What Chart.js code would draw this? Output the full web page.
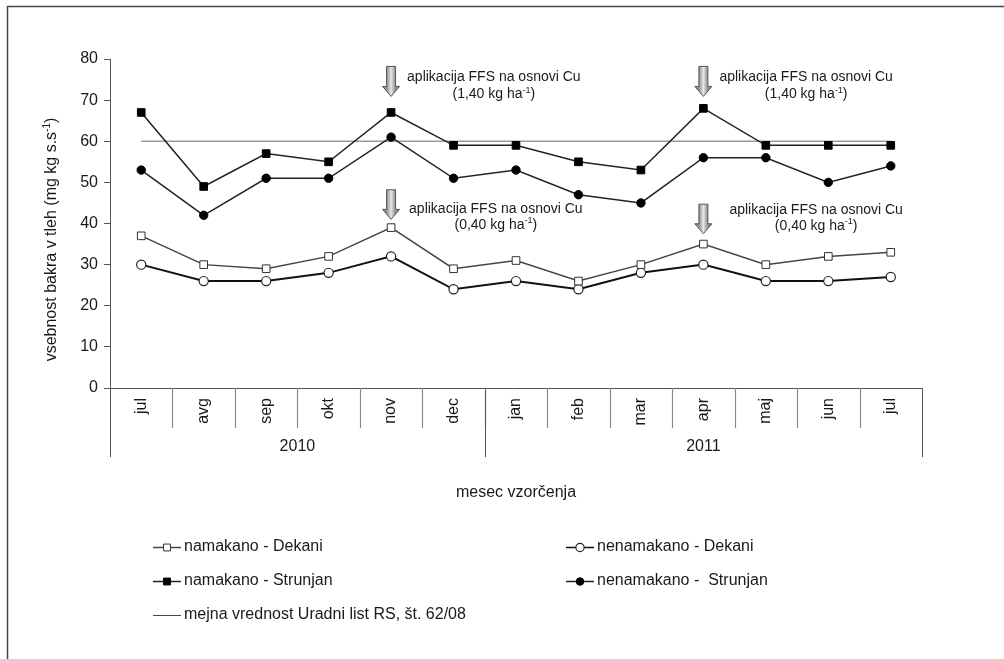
<!DOCTYPE html>
<html>
<head>
<meta charset="utf-8">
<script src="https://cdn.jsdelivr.net/npm/chart.js@4/dist/chart.umd.min.js"></script>
<style>
  html, body { margin: 0; padding: 0; background: #fff; }
  #wrap { width: 1004px; height: 659px; }
</style>
</head>
<body>
<div id="wrap"><canvas id="c" width="1004" height="659"></canvas></div>
<script>
// Sampling months (July 2010 - July 2011)
const months = ['jul', 'avg', 'sep', 'okt', 'nov', 'dec', 'jan', 'feb', 'mar', 'apr', 'maj', 'jun', 'jul'];
const yearLabels = ['2010', '2011'];
const yearSpans = [6, 7];

// Copper content in soil (mg kg s.s.^-1)
const namakanoDekani = [37, 30, 29, 32, 39, 29, 31, 26, 30, 35, 30, 32, 33];
const nenamakanoDekani = [30, 26, 26, 28, 32, 24, 26, 24, 28, 30, 26, 26, 27];
const namakanoStrunjan = [67, 49, 57, 55, 67, 59, 59, 55, 53, 68, 59, 59, 59];
const nenamakanoStrunjan = [53, 42, 51, 51, 61, 51, 53, 47, 45, 56, 56, 50, 54];
const mejnaVrednost = 60;

const yTicks = [0, 10, 20, 30, 40, 50, 60, 70, 80];

// Fungicide application notes: month index, arrow tip value, arrow top value, text offset, dose
const notes = [
  { idx: 4, tip: 70.9, top: 78.2, dx: 16, dy1: 11, dy2: 28, dose: '1,40' },
  { idx: 9, tip: 70.9, top: 78.2, dx: 16, dy1: 11, dy2: 28, dose: '1,40' },
  { idx: 4, tip: 41.0, top: 48.2, dx: 18, dy1: 19, dy2: 35, dose: '0,40' },
  { idx: 9, tip: 37.5, top: 44.7, dx: 26, dy1: 6, dy2: 22, dose: '0,40' }
];

const FONT = '"Liberation Sans", Arial, sans-serif';
const TXT = '#1a1a1a';

const datasets = [
  { label: 'namakano - Dekani', data: namakanoDekani, borderColor: '#444', borderWidth: 1.5,
    pointStyle: 'rect', pointRadius: 5.4, pointBackgroundColor: '#fff', pointBorderColor: '#333', pointBorderWidth: 1 },
  { label: 'nenamakano - Dekani', data: nenamakanoDekani, borderColor: '#111', borderWidth: 2,
    pointStyle: 'circle', pointRadius: 4.6, pointBackgroundColor: '#fff', pointBorderColor: '#222', pointBorderWidth: 1.2 },
  { label: 'namakano - Strunjan', data: namakanoStrunjan, borderColor: '#222', borderWidth: 1.5,
    pointStyle: 'rect', pointRadius: 5.4, pointBackgroundColor: '#000', pointBorderColor: '#000', pointBorderWidth: 1 },
  { label: 'nenamakano -  Strunjan', data: nenamakanoStrunjan, borderColor: '#222', borderWidth: 1.5,
    pointStyle: 'circle', pointRadius: 4.2, pointBackgroundColor: '#000', pointBorderColor: '#000', pointBorderWidth: 1 },
  { label: 'mejna vrednost Uradni list RS, št. 62/08', data: months.map(() => mejnaVrednost),
    borderColor: '#9a9a9a', borderWidth: 1.5, pointRadius: 0, legendColor: '#444' }
];
datasets.forEach(d => { d.tension = 0; d.fill = false; d.pointHoverRadius = d.pointRadius; });

// Text with superscript pieces
function drawRich(ctx, parts, x, y, align, size) {
  const big = size + 'px ' + FONT, small = Math.round(size * 0.62) + 'px ' + FONT;
  let total = 0;
  parts.forEach(p => { ctx.font = p.sup ? small : big; p.w = ctx.measureText(p.t).width; total += p.w; });
  let cx = align === 'center' ? x - total / 2 : x;
  ctx.textAlign = 'left';
  ctx.textBaseline = 'middle';
  parts.forEach(p => {
    ctx.font = p.sup ? small : big;
    ctx.fillText(p.t, cx, p.sup ? y - size * 0.3 : y);
    cx += p.w;
  });
  return total;
}

function drawArrow(ctx, cx, top, tip) {
  const shaftW = 9, headW = 17, headH = 10;
  const shaftBottom = tip - headH;
  const g = ctx.createLinearGradient(cx - shaftW / 2, 0, cx + shaftW / 2, 0);
  g.addColorStop(0, '#8c8c8c');
  g.addColorStop(0.5, '#e6e6e6');
  g.addColorStop(1, '#8c8c8c');
  ctx.beginPath();
  ctx.moveTo(cx - shaftW / 2, top);
  ctx.lineTo(cx + shaftW / 2, top);
  ctx.lineTo(cx + shaftW / 2, shaftBottom);
  ctx.lineTo(cx + headW / 2, shaftBottom);
  ctx.lineTo(cx, tip);
  ctx.lineTo(cx - headW / 2, shaftBottom);
  ctx.lineTo(cx - shaftW / 2, shaftBottom);
  ctx.closePath();
  ctx.fillStyle = g;
  ctx.fill();
  ctx.strokeStyle = '#555';
  ctx.lineWidth = 1;
  ctx.stroke();
}

function drawMarker(ctx, ds, x, y) {
  if (!ds.pointRadius) return;
  ctx.fillStyle = ds.pointBackgroundColor;
  ctx.strokeStyle = ds.pointBorderColor;
  ctx.lineWidth = ds.pointBorderWidth;
  ctx.beginPath();
  if (ds.pointStyle === 'rect') {
    const s = ds.pointRadius * Math.SQRT2 / 2;
    ctx.rect(x - s, y - s, 2 * s, 2 * s);
  } else {
    ctx.arc(x, y, ds.pointRadius, 0, Math.PI * 2);
  }
  ctx.fill();
  ctx.stroke();
}

const decor = {
  id: 'decor',
  afterDraw(chart) {
    const ctx = chart.ctx;
    const xs = chart.scales.x, ys = chart.scales.y;
    const area = chart.chartArea;
    const step = (area.right - area.left) / months.length;
    const axisY = ys.getPixelForValue(0);
    ctx.save();

    // outer frame
    ctx.strokeStyle = '#444';
    ctx.lineWidth = 1.5;
    ctx.beginPath();
    ctx.moveTo(7.5, 659);
    ctx.lineTo(7.5, 6.5);
    ctx.lineTo(1004, 6.5);
    ctx.stroke();

    // category axis line
    ctx.strokeStyle = '#555';
    ctx.lineWidth = 1;
    ctx.beginPath();
    ctx.moveTo(area.left - 5, Math.round(axisY) + 0.5);
    ctx.lineTo(area.right, Math.round(axisY) + 0.5);
    ctx.stroke();

    // month separators
    ctx.strokeStyle = '#8a8a8a';
    ctx.lineWidth = 1.2;
    for (let i = 1; i < months.length; i++) {
      const bx = Math.round(xs.getPixelForValue(i) - step / 2) + 0.5;
      ctx.beginPath();
      ctx.moveTo(bx, axisY);
      ctx.lineTo(bx, axisY + 40);
      ctx.stroke();
    }
    // year separators
    ctx.strokeStyle = '#555';
    ctx.lineWidth = 1;
    let start = 0;
    const bounds = [0];
    yearSpans.forEach(n => { start += n; bounds.push(start); });
    bounds.forEach(b => {
      const bx = Math.round(area.left + b * step) + 0.5;
      ctx.beginPath();
      ctx.moveTo(bx, axisY);
      ctx.lineTo(bx, axisY + 69);
      ctx.stroke();
    });

    // month labels (rotated)
    ctx.fillStyle = TXT;
    ctx.font = '16px ' + FONT;
    months.forEach((m, i) => {
      const mx = xs.getPixelForValue(i);
      ctx.save();
      ctx.translate(mx, axisY + 10);
      ctx.rotate(-Math.PI / 2);
      ctx.textAlign = 'right';
      ctx.textBaseline = 'middle';
      ctx.fillText(m, 0, 0);
      ctx.restore();
    });

    // year labels
    ctx.textAlign = 'center';
    ctx.textBaseline = 'middle';
    yearLabels.forEach((y, k) => {
      const cx = area.left + (bounds[k] + bounds[k + 1]) / 2 * step;
      ctx.fillText(y, cx, axisY + 59);
    });

    // axis titles
    ctx.fillText('mesec vzorčenja', (area.left + area.right) / 2, axisY + 105);
    ctx.save();
    ctx.translate(52, (area.top + axisY) / 2 + 16);
    ctx.rotate(-Math.PI / 2);
    drawRich(ctx, [{ t: 'vsebnost bakra v tleh (mg kg s.s' }, { t: '-1', sup: true }, { t: ')' }], 0, 0, 'center', 16);
    ctx.restore();

    // application notes
    notes.forEach(n => {
      const cx = xs.getPixelForValue(n.idx);
      const top = ys.getPixelForValue(n.top), tip = ys.getPixelForValue(n.tip);
      drawArrow(ctx, cx, top, tip);
      ctx.fillStyle = TXT;
      ctx.font = '14px ' + FONT;
      const line1 = 'aplikacija FFS na osnovi Cu';
      const w1 = ctx.measureText(line1).width;
      ctx.textAlign = 'left';
      ctx.textBaseline = 'middle';
      const tx = cx + n.dx;
      ctx.fillText(line1, tx, top + n.dy1);
      drawRich(ctx, [{ t: '(' + n.dose + ' kg ha' }, { t: '-1', sup: true }, { t: ')' }], tx + w1 / 2, top + n.dy2, 'center', 14);
    });

    // legend
    const legendPos = [
      { ds: 0, x: 153, y: 547 }, { ds: 1, x: 566, y: 547 },
      { ds: 2, x: 153, y: 581 }, { ds: 3, x: 566, y: 581 },
      { ds: 4, x: 153, y: 615 }
    ];
    legendPos.forEach(p => {
      const ds = datasets[p.ds];
      ctx.strokeStyle = ds.legendColor || ds.borderColor;
      ctx.lineWidth = ds.pointRadius ? 1.5 : 1;
      ctx.beginPath();
      ctx.moveTo(p.x, p.y + 0.5);
      ctx.lineTo(p.x + 28, p.y + 0.5);
      ctx.stroke();
      const m = Object.assign({}, ds, { pointRadius: ds.pointRadius ? ds.pointRadius * 0.9 : 0 });
      drawMarker(ctx, m, p.x + 14, p.y + 0.5);
      ctx.fillStyle = TXT;
      ctx.font = '16px ' + FONT;
      ctx.textAlign = 'left';
      ctx.textBaseline = 'middle';
      ctx.fillText(ds.label, p.x + 31, p.y);
    });

    ctx.restore();
  }
};

new Chart(document.getElementById('c'), {
  type: 'line',
  data: { labels: months, datasets: datasets },
  options: {
    responsive: false,
    animation: false,
    devicePixelRatio: 1,
    layout: { padding: { left: 0, top: 59, right: 82, bottom: 271 } },
    plugins: { legend: { display: false }, tooltip: { enabled: false } },
    scales: {
      x: { type: 'category', display: false, offset: true },
      y: {
        min: 0, max: 80,
        afterFit: s => { s.width = 110; },
        afterBuildTicks: s => { s.ticks = yTicks.map(v => ({ value: v })); },
        ticks: { color: TXT, font: { family: FONT, size: 16 }, padding: 6 },
        grid: { drawOnChartArea: false, drawTicks: true, tickLength: 6, color: '#555' },
        border: { color: '#555', width: 1 }
      }
    }
  },
  plugins: [decor]
});
</script>
</body>
</html>
